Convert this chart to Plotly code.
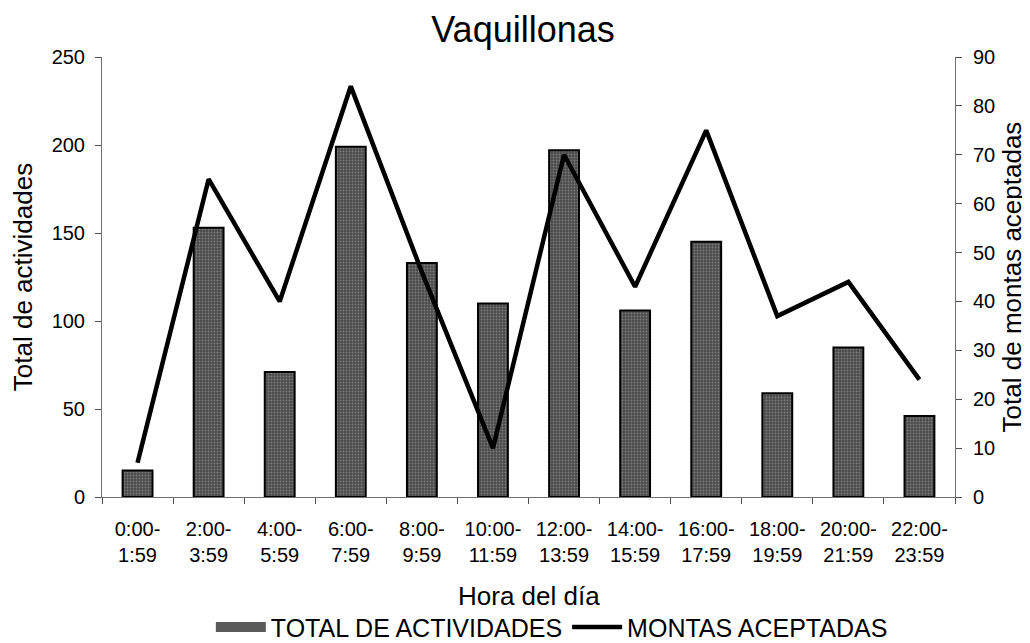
import plotly.graph_objects as go

horas = ["0:00-<br>1:59", "2:00-<br>3:59", "4:00-<br>5:59", "6:00-<br>7:59",
         "8:00-<br>9:59", "10:00-<br>11:59", "12:00-<br>13:59", "14:00-<br>15:59",
         "16:00-<br>17:59", "18:00-<br>19:59", "20:00-<br>21:59", "22:00-<br>23:59"]
total_actividades = [15, 153, 71, 199, 133, 110, 197, 106, 145, 59, 85, 46]
montas_aceptadas = [7, 65, 40, 84, 46, 10, 70, 43, 75, 37, 44, 24]

fig = go.Figure()

fig.add_trace(go.Bar(
    x=horas, y=total_actividades,
    name="TOTAL DE ACTIVIDADES",
    legendgroup="act", showlegend=False,
    marker=dict(color="#4a4a4a",
                line=dict(color="black", width=2),
                pattern=dict(shape=".", fgcolor="#b0b0b0", size=3, solidity=0.3)),
))

# legend-only entry so the bar key is a wide block like the original
fig.add_trace(go.Scatter(
    x=[None], y=[None],
    name="TOTAL DE ACTIVIDADES",
    legendgroup="act",
    mode="lines",
    line=dict(color="#5a5a5a", width=16),
))

fig.add_trace(go.Scatter(
    x=horas, y=montas_aceptadas,
    name="MONTAS ACEPTADAS",
    mode="lines",
    line=dict(color="black", width=4.5),
    yaxis="y2",
))

font = "Liberation Sans, Arial, sans-serif"
axis_style = dict(showline=True, linecolor="#707070", linewidth=1,
                  ticks="outside", ticklen=6, tickcolor="#505050",
                  showgrid=False, zeroline=False, automargin=False,
                  tickfont=dict(size=20))
fig.update_layout(
    width=1030, height=643,
    paper_bgcolor="white", plot_bgcolor="white",
    font=dict(family=font, color="black", size=20),
    title=dict(text="Vaquillonas", x=0.5, xanchor="center",
               yref="container", y=0.967, yanchor="middle",
               font=dict(size=36)),
    margin=dict(l=94, r=83, t=49, b=154, autoexpand=False),
    bargap=0.58,
    showlegend=True,
    legend=dict(orientation="h", xref="container", x=0.528, xanchor="center",
                yref="container", y=0.037, yanchor="middle",
                font=dict(size=25), tracegroupgap=0,
                itemwidth=50),
    xaxis=dict(
        tickson="boundaries", ticklabelstandoff=14,
        **axis_style,
    ),
    yaxis=dict(
        title=dict(text="Total de actividades", font=dict(size=26), standoff=14),
        range=[0, 250], dtick=50, ticklabelstandoff=6,
        **axis_style,
    ),
    yaxis2=dict(
        title=dict(text="Total de montas aceptadas", font=dict(size=26), standoff=8),
        range=[0, 90], dtick=10, ticklabelstandoff=7,
        overlaying="y", side="right",
        **axis_style,
    ),
)

# x title as annotation: plotly pushes the axis title above a bottom legend
fig.add_annotation(text="Hora del día", xref="paper", yref="paper",
                   x=0.5, y=-0.225, xanchor="center", yanchor="middle",
                   showarrow=False, font=dict(size=26))

fig.write_html("out.html")
